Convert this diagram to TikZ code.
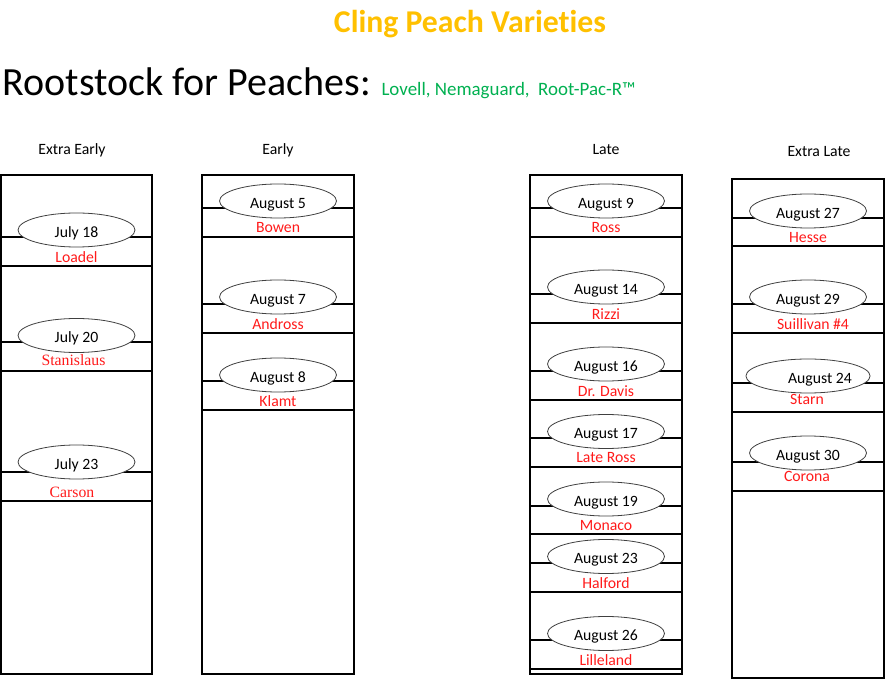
\documentclass[tikz,border=0pt]{standalone}
\usepackage{fontspec}
\setmainfont{Carlito}[Ligatures=NoCommon]
\newfontfamily\timesfont{Liberation Serif}
\usetikzlibrary{shapes.geometric}
\definecolor{titleorange}{HTML}{FFC000}
\definecolor{stockgreen}{HTML}{00B050}
\definecolor{namered}{HTML}{FF1A1A}
\begin{document}
\begin{tikzpicture}[x=0.75pt, y=-0.75pt, line width=0.8pt,
        date/.style={ellipse, draw=black!75, line width=0.6pt, fill=white, minimum width=87.75pt, minimum height=25.5pt, inner sep=0pt, text height=11pt, text depth=0pt, font=\fontsize{11.8}{14}\selectfont},
        variety/.style={text=namered, inner sep=0pt, font=\fontsize{11.8}{14}\selectfont},
        season/.style={anchor=base, inner sep=0pt, font=\fontsize{11.8}{14}\selectfont}]
            \useasboundingbox (0,0) rectangle (885,680);

            % headings
            \node[anchor=base, text=titleorange, inner sep=0pt, font=\fontsize{23.8}{28}\selectfont\bfseries] (title) at (470,33) {Cling Peach Variet\kern0pt ies};
            \node[anchor=base west, inner sep=0pt, font=\fontsize{30}{36}\selectfont] (rootstock) at (2,96) {Rootstock for Peaches:};
            \node[anchor=base west, text=stockgreen, inner sep=0pt, font=\fontsize{14.2}{17}\selectfont] (stocks) at (381,96) {Lovell, Nemaguard,\ \ Root-Pac-R™};

            \node[season] (xearly) at (72,155) {Extra Early};
            \node[season] (early) at (278,155) {Early};
            \node[season] (late) at (606,155) {Late};
            \node[season] (xlate) at (819,157) {Extra Late};

            % extra early
            \draw (1,175) rectangle (152,674);
            \draw (1,237) -- (152,237) (1,266) -- (152,266);
            \node[date] (jul18) at (76.5,230) {July 18};
            \node[variety] (loadel) at (76.5,257) {Loadel};
            \draw (1,342) -- (152,342) (1,371) -- (152,371);
            \node[date] (jul20) at (76.5,335.5) {July 20};
            \node[variety, font=\fontsize{11.8}{14}\selectfont\timesfont] (stanislaus) at (73.5,360) {Stanislaus};
            \draw (1,472) -- (152,472) (1,501) -- (152,501);
            \node[date] (jul23) at (76.5,462) {July 23};
            \node[variety, font=\fontsize{11.8}{14}\selectfont\timesfont] (carson) at (72,492) {Carson};

            % early
            \draw (202,175) rectangle (354,674);
            \draw (202,208) -- (354,208) (202,237) -- (354,237);
            \node[date] (aug5) at (278,201) {August 5};
            \node[variety] (bowen) at (278,228) {Bowen};
            \draw (202,304) -- (354,304) (202,333) -- (354,333);
            \node[date] (aug7) at (278,297) {August 7};
            \node[variety] (andross) at (278,324) {Andross};
            \draw (202,381) -- (354,381) (202,410) -- (354,410);
            \node[date] (aug8) at (278,375) {August 8};
            \node[variety] (klamt) at (278,401) {Klamt};

            % late
            \draw (530,175) rectangle (682,674);
            \draw (530,208) -- (682,208) (530,237) -- (682,237);
            \node[date] (aug9) at (606,201) {August 9};
            \node[variety] (ross) at (606,228) {Ross};
            \draw (530,294) -- (682,294) (530,323) -- (682,323);
            \node[date] (aug14) at (606,287) {August 14};
            \node[variety] (rizzi) at (606,314) {Rizzi};
            \draw (530,371) -- (682,371) (530,400) -- (682,400);
            \node[date] (aug16) at (606,364) {August 16};
            \node[variety] (davis) at (606,391) {Dr. Davis};
            \draw (530,438) -- (682,438) (530,467) -- (682,467);
            \node[date] (aug17) at (606,431.5) {August 17};
            \node[variety] (lateross) at (606,458) {Late Ross};
            \draw (530,506) -- (682,506) (530,534) -- (682,534);
            \node[date] (aug19) at (606,499) {August 19};
            \node[variety] (monaco) at (606,526) {Monaco};
            \draw (530,563) -- (682,563) (530,592) -- (682,592);
            \node[date] (aug23) at (606,556.5) {August 23};
            \node[variety] (halford) at (606,583) {Halford};
            \draw (530,640) -- (682,640) (530,669) -- (682,669);
            \node[date] (aug26) at (606,633.5) {August 26};
            \node[variety] (lilleland) at (606,660) {Lilleland};

            % extra late
            \draw (732,179) rectangle (884,678);
            \draw (732,218) -- (884,218) (732,246) -- (884,246);
            \node[date] (aug27) at (808,211) {August 27};
            \node[variety] (hesse) at (808,238) {Hesse};
            \draw (732,304) -- (884,304) (732,333) -- (884,333);
            \node[date] (aug29) at (808,297) {August 29};
            \node[variety] (suillivan) at (813,324) {Suillivan \#4};
            \draw (732,383) -- (884,383) (732,412) -- (884,412);
            \node[date] (aug24) at (808,376) {\hspace*{18pt}August 24};
            \node[variety] (starn) at (807,399) {Starn};
            \draw (732,462) -- (884,462) (732,491) -- (884,491);
            \node[date] (aug30) at (808,453) {August 30};
            \node[variety] (corona) at (807,476) {Corona};
        \end{tikzpicture}
\end{document}
